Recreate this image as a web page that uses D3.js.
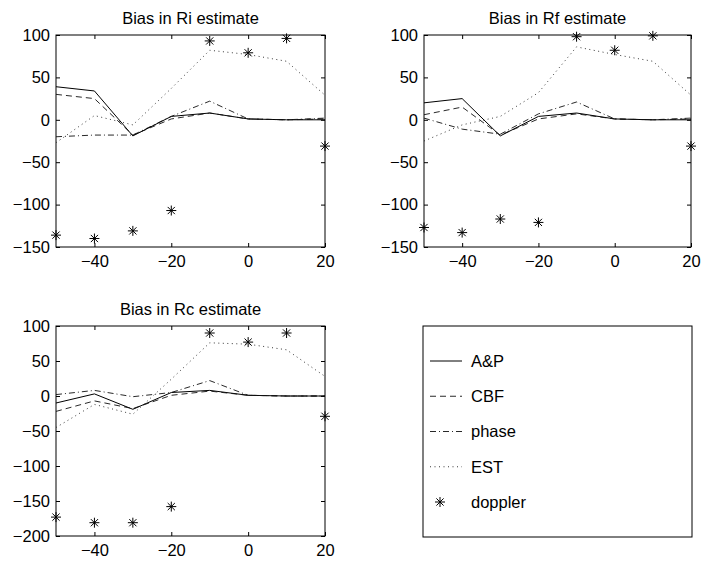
<!DOCTYPE html>
<html><head><meta charset="utf-8">
<script src="https://cdn.jsdelivr.net/npm/d3@7"></script>
<style>
html,body{margin:0;padding:0;background:#fff;}
svg{display:block;}
text{font-family:"Liberation Sans",Arial,Helvetica,sans-serif;fill:#000;}
</style></head>
<body>
<svg id="chart" width="701" height="565"></svg>
<script>
// ---- data ----
const xs = [-50, -40, -30, -20, -10, 0, 10, 20];
const seriesNames = ["A&P", "CBF", "phase", "EST", "doppler"];
const xTicks = [-40, -20, 0, 20];

const titles = ["Bias in Ri estimate", "Bias in Rf estimate", "Bias in Rc estimate"];
const yDomains = [[-150, 100], [-150, 100], [-200, 100]];
const yTicksRiRf = [-150, -100, -50, 0, 50, 100];
const yTicksRc = [-200, -150, -100, -50, 0, 50, 100];

// Ri
const riAP      = [39, 34, -19, 4, 8, 1, 0, 0];
const riCBF     = [30, 25, -18, 1, 8, 1, 0, 1];
const riPhase   = [-20, -18, -18, 4, 22, 1, 0, 2];
const riEST     = [-27, 5, -6, 37, 82, 77, 69, 29];
const riDoppler = [-136, -140, -131, -107, 93, 79, 96, -31];
// Rf
const rfAP      = [20, 25, -19, 4, 8, 1, 0, 0];
const rfCBF     = [6, 15, -18, 1, 7, 1, 0, 1];
const rfPhase   = [2, -11, -17, 7, 21, 1, 0, 2];
const rfEST     = [-25, -6, 4, 32, 86, 77, 69, 29];
const rfDoppler = [-127, -133, -117, -121, 98, 82, 99, -31];
// Rc
const rcAP      = [-10, 3, -19, 5, 8, 1, 0, 0];
const rcCBF     = [-22, -7, -18, 1, 7, 1, 0, 0];
const rcPhase   = [2, 8, -1, 5, 22, 1, 0, 0];
const rcEST     = [-45, -12, -26, 24, 76, 74, 66, 28];
const rcDoppler = [-173, -181, -181, -158, 90, 77, 90, -29];

const panels = [
  {title: titles[0], yDomain: yDomains[0], yTicks: yTicksRiRf, box: [56, 325, 35, 247],
   lines: [riAP, riCBF, riPhase, riEST], doppler: riDoppler},
  {title: titles[1], yDomain: yDomains[1], yTicks: yTicksRiRf, box: [424, 691, 35, 247],
   lines: [rfAP, rfCBF, rfPhase, rfEST], doppler: rfDoppler},
  {title: titles[2], yDomain: yDomains[2], yTicks: yTicksRc, box: [56, 325, 326, 536],
   lines: [rcAP, rcCBF, rcPhase, rcEST], doppler: rcDoppler}
];

const styles = [
  {dash: null, color: "#000", w: 1},
  {dash: "6,4", color: "#111", w: 0.9},
  {dash: "6,3,1,3", color: "#111", w: 0.9},
  {dash: "1,3.5", color: "#222", w: 0.9}
];

const FS = 16.5;
const svg = d3.select("#chart");

function star(g, cx, cy) {
  const r = 5, d = 3.6;
  const segs = [[-r,0,r,0],[0,-r,0,r],[-d,-d,d,d],[-d,d,d,-d]];
  segs.forEach(s => g.append("line")
    .attr("x1", cx + s[0]).attr("y1", cy + s[1])
    .attr("x2", cx + s[2]).attr("y2", cy + s[3])
    .attr("stroke", "#000").attr("stroke-width", 1));
}

panels.forEach(p => {
  const [l, r, t, b] = p.box;
  const x = d3.scaleLinear().domain([-50, 20]).range([l, r]);
  const y = d3.scaleLinear().domain(p.yDomain).range([b, t]);
  const g = svg.append("g");

  const fmt = d3.format("d");
  g.append("g").attr("transform", `translate(0,${b})`)
    .call(d3.axisBottom(x).tickValues(xTicks).tickSizeInner(-4).tickSizeOuter(0).tickPadding(8).tickFormat(fmt))
    .call(a => { a.select(".domain").remove(); a.selectAll("text").attr("font-size", FS).attr("font-family", null); });
  g.append("g").attr("transform", `translate(0,${t})`)
    .call(d3.axisTop(x).tickValues(xTicks).tickSizeInner(-4).tickSizeOuter(0).tickFormat(""))
    .call(a => a.select(".domain").remove());
  g.append("g").attr("transform", `translate(${l},0)`)
    .call(d3.axisLeft(y).tickValues(p.yTicks).tickSizeInner(-4).tickSizeOuter(0).tickPadding(6).tickFormat(fmt))
    .call(a => { a.select(".domain").remove(); a.selectAll("text").attr("font-size", FS).attr("font-family", null); });
  g.append("g").attr("transform", `translate(${r},0)`)
    .call(d3.axisRight(y).tickValues(p.yTicks).tickSizeInner(-4).tickSizeOuter(0).tickFormat(""))
    .call(a => a.select(".domain").remove());
  g.selectAll(".tick line").attr("stroke", "#000").attr("stroke-width", 1);

  g.append("rect").attr("x", l).attr("y", t).attr("width", r - l).attr("height", b - t)
    .attr("fill", "none").attr("stroke", "#000").attr("stroke-width", 1);

  g.append("text").attr("x", (l + r) / 2).attr("y", t - 11)
    .attr("text-anchor", "middle").attr("font-size", FS).text(p.title);

  const line = d3.line().x((d, i) => x(xs[i])).y(d => y(d));
  p.lines.forEach((vals, i) => {
    const s = styles[i];
    g.append("path").attr("d", line(vals)).attr("fill", "none")
      .attr("stroke", s.color).attr("stroke-width", s.w)
      .attr("stroke-dasharray", s.dash);
  });
  p.doppler.forEach((v, i) => star(g, x(xs[i]), y(v)));
});

// legend
const lg = svg.append("g");
lg.append("rect").attr("x", 423).attr("y", 326).attr("width", 269).attr("height", 211)
  .attr("fill", "#fff").attr("stroke", "#000").attr("stroke-width", 1);
const legY = d3.scalePoint().domain(seriesNames).range([361, 502]);
seriesNames.forEach((name, i) => {
  const yy = legY(name);
  if (i < 4) {
    const s = styles[i];
    lg.append("line").attr("x1", 430).attr("x2", 462).attr("y1", yy).attr("y2", yy)
      .attr("stroke", s.color).attr("stroke-width", s.w).attr("stroke-dasharray", s.dash);
  } else {
    star(lg, 440, yy);
  }
  lg.append("text").attr("x", 471).attr("y", yy).attr("dy", "0.36em")
    .attr("font-size", FS).text(name);
});
</script>
</body></html>
